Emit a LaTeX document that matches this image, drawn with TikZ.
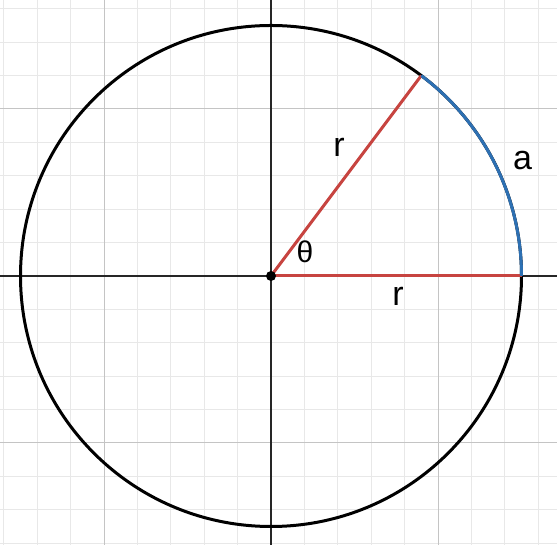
\documentclass[tikz,border=0pt]{standalone}
\usepackage{fontspec}
\setmainfont{Liberation Sans}
\definecolor{dred}{HTML}{C74440}
\definecolor{dblue}{HTML}{2D70B3}
\definecolor{minorgrid}{HTML}{E8E8E8}
\definecolor{majorgrid}{HTML}{C4C4C4}
\tikzset{
  minorline/.style={draw=minorgrid, line width=1pt},
  majorline/.style={draw=majorgrid, line width=1pt},
  axisline/.style={draw=black!85, line width=1.5pt},
  curveline/.style={line width=3pt},
  lbl/.style={inner sep=0pt, anchor=base, font=\fontsize{34}{40}\selectfont},
  lblsmall/.style={inner sep=0pt, anchor=base, font=\fontsize{30}{36}\selectfont}
}
\begin{document}
\begin{tikzpicture}[x=1pt,y=1pt]
\useasboundingbox (0,0) rectangle (557,545);
\fill[white] (0,0) rectangle (557,545);
\clip (0,0) rectangle (557,545);
\begin{scope}[shift={(271,269)}, x=33.4pt, y=33.4pt]
  \foreach \k in {-8,...,8} {
    \draw[minorline] (\k,-8.3) -- (\k,8.5);
    \draw[minorline] (-8.3,\k) -- (8.7,\k);
  }
  \foreach \k in {-5,5} {
    \draw[majorline] (\k,-8.3) -- (\k,8.5);
    \draw[majorline] (-8.3,\k) -- (8.7,\k);
  }
  \draw[axisline] (0,-8.3) -- (0,8.5);
  \draw[axisline] (-8.3,0) -- (8.7,0);
  \coordinate (O) at (0,0);
  \coordinate (P) at (53.13:7.5);
  \coordinate (A) at (7.5,0);
  \draw[curveline, black] (O) circle[radius=7.5];
  \draw[curveline, dred] (O) -- (P);
  \draw[curveline, dred] (O) -- (A);
  \draw[curveline, dblue] (A) arc[start angle=0, end angle=53.13, radius=7.5];
  \fill[black] (O) circle[radius=5pt];
\end{scope}
\node[lbl] (rtop) at (339,388.3) {r};
\node[lbl] (rbot) at (398,239.3) {r};
\node[lbl] (alabel) at (522.5,375) {a};
\node[lblsmall] (theta) at (305,282.5) {θ};
\end{tikzpicture}
\end{document}
